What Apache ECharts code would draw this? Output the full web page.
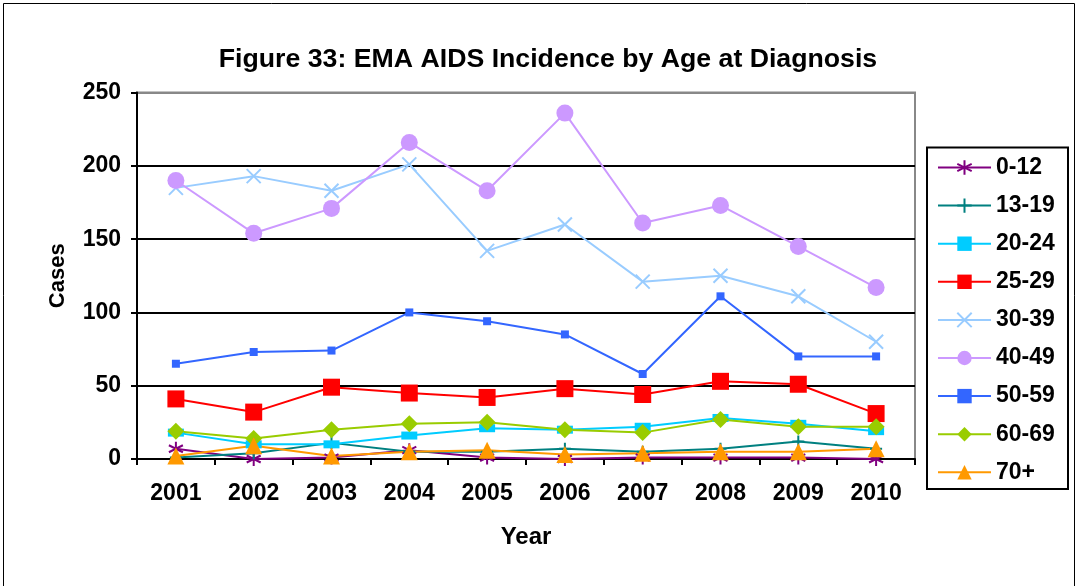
<!DOCTYPE html>
<html>
<head>
<meta charset="utf-8">
<script src="https://cdn.jsdelivr.net/npm/echarts@6/dist/echarts.min.js"></script>
<style>
html,body{margin:0;padding:0;background:#fff;}
#c{width:1078px;height:586px;}
</style>
</head>
<body>
<div id="c"></div>
<script>
var years = ['2001','2002','2003','2004','2005','2006','2007','2008','2009','2010'];
var yTicks = [0, 50, 100, 150, 200, 250];
var s0_12  = [7, 0, 1, 6, 1, 0, 1, 1, 1, 0];
var s13_19 = [1, 4, 11, 5, 5, 7, 5, 7, 12, 7];
var s20_24 = [18, 10, 10, 16, 21, 20, 22, 28, 24, 19];
var s25_29 = [41, 32, 49, 45, 42, 48, 44, 53, 51, 31];
var s30_39 = [185, 193, 183, 201, 142, 160, 121, 125, 111, 80];
var s40_49 = [190, 154, 171, 216, 183, 236, 161, 173, 145, 117];
var s50_59 = [65, 73, 74, 100, 94, 85, 58, 111, 70, 70];
var s60_69 = [19, 14, 20, 24, 25, 20, 18, 27, 22, 22];
var s70p   = [2, 9, 2, 5, 6, 3, 4, 5, 5, 7];

var FONT = 'Liberation Sans, Arial, sans-serif';
var ASTER = 'path://M5,0L5,10M0.67,2.5L9.33,7.5M0.67,7.5L9.33,2.5';
var PLUS = 'path://M5,0L5,10M0,5L10,5';
var CROSS = 'path://M0,0L10,10M10,0L0,10';

function mk(name, data, color, symbol, size, stroked) {
  return {
    name: name, type: 'line', data: data,
    symbol: symbol, symbolSize: size,
    lineStyle: {color: color, width: 2},
    itemStyle: stroked ? {color: color, borderColor: color, borderWidth: 2} : {color: color, borderWidth: 0},
    emphasis: {disabled: true},
    animation: false
  };
}

var chart = echarts.init(document.getElementById('c'), null, {renderer: 'canvas'});
chart.setOption({
  backgroundColor: '#ffffff',
  animation: false,
  title: {
    text: 'Figure 33: EMA AIDS Incidence by Age at Diagnosis',
    left: 543, top: 41, textAlign: 'center',
    textStyle: {fontFamily: FONT, fontWeight: 'bold', fontSize: 26.7, color: '#000'}
  },
  graphic: [
    {type: 'rect', shape: {x: 3.5, y: 3.5, width: 1071, height: 620}, style: {fill: 'none', stroke: '#000', lineWidth: 1}, z: -1},
    {type: 'rect', shape: {x: 927, y: 147.5, width: 141, height: 341.5}, style: {fill: '#fff', stroke: '#000', lineWidth: 2}, z: 0}
  ],
  legend: {
    orient: 'vertical', left: 937, top: 156, padding: 0,
    itemWidth: 53, itemHeight: 18, itemGap: 15.1,
    textStyle: {fontFamily: FONT, fontWeight: 'bold', fontSize: 23, color: '#000'},
    z: 5
  },
  grid: {left: 137, right: 163, top: 92.6, bottom: 127, show: true, borderColor: '#888', borderWidth: 2},
  xAxis: {
    type: 'category', data: years, boundaryGap: true,
    name: 'Year', nameLocation: 'middle', nameGap: 66,
    nameTextStyle: {fontFamily: FONT, fontWeight: 'bold', fontSize: 24, color: '#000'},
    axisLine: {lineStyle: {color: '#000', width: 2}},
    axisTick: {show: true, inside: false, length: 6, interval: 0, lineStyle: {color: '#000', width: 2}},
    axisLabel: {fontFamily: FONT, fontWeight: 'bold', fontSize: 23, color: '#000', margin: 23, interval: 0}
  },
  yAxis: {
    type: 'value', min: 0, max: 250, interval: 50,
    name: 'Cases', nameLocation: 'middle', nameGap: 68, nameRotate: 90,
    nameTextStyle: {fontFamily: FONT, fontWeight: 'bold', fontSize: 22, color: '#000'},
    axisLine: {show: true, lineStyle: {color: '#000', width: 2}},
    axisTick: {show: true, inside: false, length: 6, lineStyle: {color: '#000', width: 2}},
    axisLabel: {fontFamily: FONT, fontWeight: 'bold', fontSize: 23, color: '#000', margin: 16,
      formatter: function (v) { return yTicks.indexOf(v) >= 0 ? String(v) : ''; }},
    splitLine: {show: true, lineStyle: {color: ['#000','#000','#000','#000','#000','#888'], width: 2}}
  },
  series: [
    mk('0-12', s0_12, '#800080', ASTER, 14, true),
    mk('13-19', s13_19, '#008080', PLUS, 12, true),
    mk('20-24', s20_24, '#00CCFF', 'rect', [16, 8], false),
    mk('25-29', s25_29, '#FF0000', 'rect', 17, false),
    mk('30-39', s30_39, '#99CCFF', CROSS, 14, true),
    mk('40-49', s40_49, '#CC99FF', 'circle', 17, false),
    mk('50-59', s50_59, '#3366FF', 'rect', 8, false),
    mk('60-69', s60_69, '#99CC00', 'diamond', 17, false),
    mk('70+', s70p, '#FF9900', 'triangle', 17, false)
  ]
});
</script>
</body>
</html>
